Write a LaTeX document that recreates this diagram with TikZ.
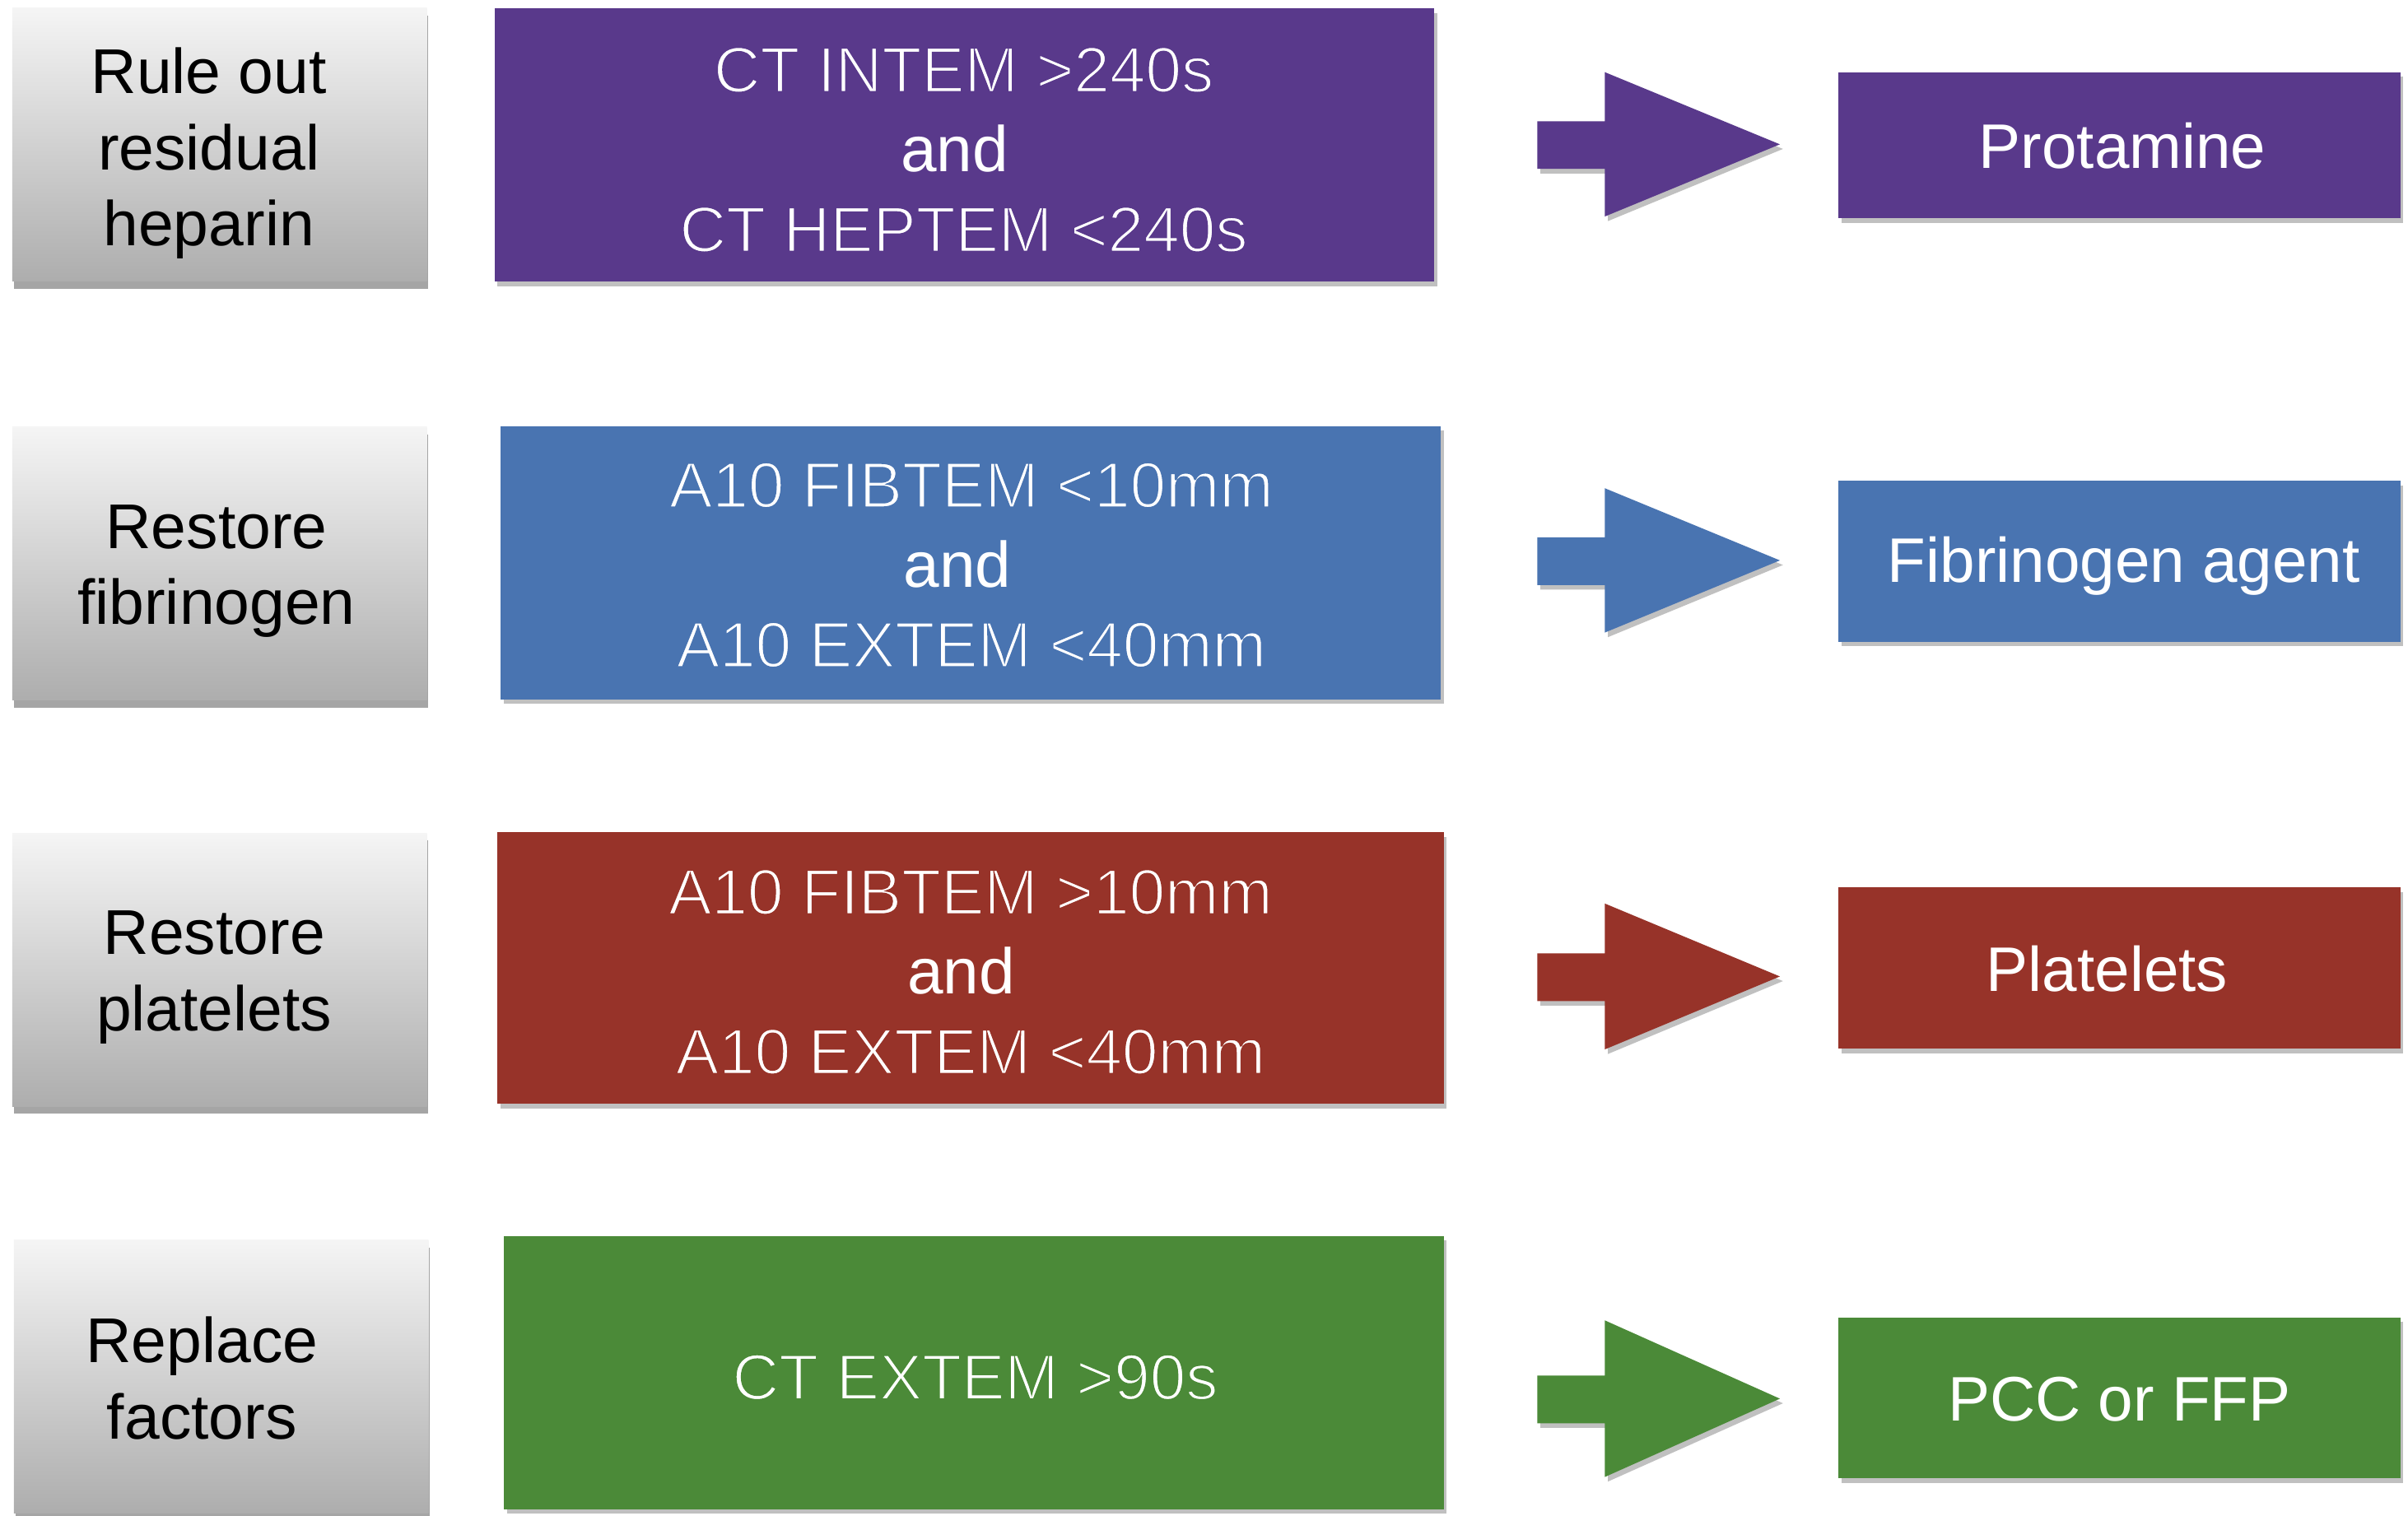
\documentclass[tikz,border=0pt]{standalone}
\usepackage{fontspec}
\setmainfont{Liberation Sans}
\usetikzlibrary{shadows}
\definecolor{cpurple}{RGB}{89,57,139}
\definecolor{cblue}{RGB}{73,116,177}
\definecolor{cred}{RGB}{151,51,41}
\definecolor{cgreen}{RGB}{75,138,56}
\newcommand{\lite}[2]{\special{pdf:literal direct 2 Tr 0.6 w #1 RG}#2\special{pdf:literal direct 0 Tr}}
\def\rgbpurple{0.349 0.224 0.545}
\def\rgbblue{0.286 0.455 0.694}
\def\rgbred{0.592 0.2 0.161}
\def\rgbgreen{0.294 0.541 0.22}
\begin{document}
\begin{tikzpicture}[x=0.5pt,y=-0.5pt,
  graybox/.style={rectangle, minimum width=135pt, minimum height=89pt, inner sep=0pt,
    top color=black!4, bottom color=black!32,
    drop shadow={shadow xshift=0.5pt, shadow yshift=-2.5pt, opacity=0.5, fill=black!70}},
  graytext/.style={align=center, text=black, inner sep=0pt, font=\fontsize{20.6}{24.8}\selectfont},
  condbox/.style={rectangle, minimum width=306pt, minimum height=89pt, inner sep=0pt,
    fill=#1, drop shadow={shadow xshift=1pt, shadow yshift=-1.5pt, opacity=0.35, fill=black!70}},
  condtext/.style={align=center, text=white, inner sep=0pt, font=\fontsize{21}{26}\selectfont},
  resbox/.style={rectangle, minimum width=183pt, minimum height=52.5pt, inner sep=0pt,
    fill=#1, drop shadow={shadow xshift=1pt, shadow yshift=-1.5pt, opacity=0.35, fill=black!70}},
  restext/.style={text=white, inner sep=0pt, font=\fontsize{20.5}{24}\selectfont},
  arrowshape/.style={fill=#1, drop shadow={shadow xshift=1pt, shadow yshift=-1.5pt, opacity=0.35, fill=black!70}}
]
\useasboundingbox (0,0) rectangle (1568,987);
\fill[white] (0,0) rectangle (1568,987);

% left gray boxes
\node[graybox] (g1) at (143,94) {};
\node[graybox] (g2) at (143,367) {};
\node[graybox] (g3) at (143,631.5) {};
\node[graybox] (g4) at (144,896.5) {};
\node[graytext] (g1t) at (136,100) {Rule out\\residual\\heparin};
\node[graytext] (g2t) at (141,372) {Restore\\fibrinogen};
\node[graytext] (g3t) at (139.5,636.5) {Restore\\platelets};
\node[graytext] (g4t) at (131.5,897.5) {Replace\\factors};

% condition boxes
\node[condbox=cpurple] (c1) at (628,94.5) {};
\node[condbox=cblue] (c2) at (632,366.5) {};
\node[condbox=cred, minimum width=308pt, minimum height=88.5pt] (c3) at (632,630.5) {};
\node[condbox=cgreen] (c4) at (634,894) {};
\node[condtext] (c1t) at (627.5,97.5) {\lite{\rgbpurple}{CT INTEM >240s}\\and\rule{6pt}{0pt}\\\lite{\rgbpurple}{CT HEPTEM <240s}};
\node[condtext] (c2t) at (632.5,368) {\lite{\rgbblue}{A10 FIBTEM <10mm}\\and\rule{9pt}{0pt}\\\lite{\rgbblue}{A10 EXTEM <40mm}};
\node[condtext] (c3t) at (632,633) {\lite{\rgbred}{A10 FIBTEM >10mm}\\and\rule{6pt}{0pt}\\\lite{\rgbred}{A10 EXTEM <40mm}};
\node[condtext] (c4t) at (635,897) {\lite{\rgbgreen}{CT EXTEM >90s}};

% result boxes
\node[resbox=cpurple, minimum height=47.5pt] (r1) at (1380,94.5) {};
\node[resbox=cblue] (r2) at (1380,365.5) {};
\node[resbox=cred] (r3) at (1380,630.5) {};
\node[resbox=cgreen] (r4) at (1380,910.5) {};
\node[restext] (r1t) at (1382,95) {Protamine};
\node[restext] (r2t) at (1383,368.5) {Fibrinogen agent};
\node[restext] (r3t) at (1372,631) {Platelets};
\node[restext] (r4t) at (1380,911.5) {PCC or FFP};

% arrows
\foreach \yy/\cc/\hh in {94/cpurple/47, 365/cblue/47, 636/cred/47.5, 911/cgreen/51}{
  \path[arrowshape=\cc] (1001,\yy-15) -- (1045,\yy-15) -- (1045,\yy-\hh) -- (1159,\yy)
     -- (1045,\yy+\hh) -- (1045,\yy+16) -- (1001,\yy+16) -- cycle;
}
\end{tikzpicture}
\end{document}
